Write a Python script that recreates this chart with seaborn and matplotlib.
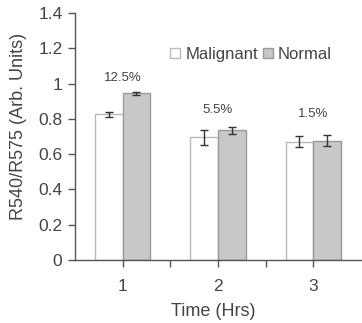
import matplotlib
matplotlib.use("Agg")
import matplotlib.pyplot as plt
import seaborn as sns
import pandas as pd
import numpy as np
from matplotlib.patches import Patch

times = ["1", "2", "3"]
groups = ["Malignant", "Normal"]
malignant = [0.825, 0.695, 0.671]
normal = [0.945, 0.735, 0.677]
malignant_err = [0.012, 0.042, 0.030]
normal_err = [0.008, 0.019, 0.032]
labels = ["12.5%", "5.5%", "1.5%"]
label_y = [1.03, 0.85, 0.83]

df = pd.DataFrame({
    "Time": times * 2,
    "Group": ["Malignant"] * 3 + ["Normal"] * 3,
    "Value": malignant + normal,
})

sns.set_style("white")
plt.rcParams["font.family"] = ["Liberation Sans", "DejaVu Sans"]
txt = "#444444"
axc = "#555555"

fig = plt.figure(figsize=(3.62, 3.23), dpi=100)
ax = fig.add_axes([0.207, 0.195, 0.79, 0.765])

face = {"Malignant": "#ffffff", "Normal": "#c8c8c8"}
sns.barplot(data=df, x="Time", y="Value", hue="Group", order=times,
            hue_order=groups, palette=face, width=0.58, errorbar=None,
            legend=False, ax=ax, saturation=1)

edges = {"Malignant": "#b8b8b8", "Normal": "#9a9a9a"}
errs = {"Malignant": malignant_err, "Normal": normal_err}
vals = {"Malignant": malignant, "Normal": normal}
bar_containers = list(ax.containers)
for gi, cont in enumerate(bar_containers):
    g = groups[gi]
    for bi, p in enumerate(cont.patches):
        p.set_edgecolor(edges[g])
        p.set_linewidth(1.0)
        cx = p.get_x() + p.get_width() / 2
        ax.errorbar(cx, vals[g][bi], yerr=errs[g][bi], fmt="none",
                    ecolor="#333333", elinewidth=1.0, capsize=3, capthick=1.0)

for i, (t, yv) in enumerate(zip(labels, label_y)):
    ax.text(i, yv, t, ha="center", va="center", fontsize=9.5, color=txt)

ax.set_ylim(0, 1.4)
ax.set_xlim(-0.5, 2.5)
ax.set_yticks(np.arange(0, 1.41, 0.2))
ax.set_yticklabels(["0", "0.2", "0.4", "0.6", "0.8", "1", "1.2", "1.4"])
ax.set_xticks([0, 1, 2])
ax.set_xticks([0.5, 1.5], minor=True)
ax.tick_params(axis="both", which="both", direction="out", length=5,
               width=1, color=axc, labelcolor=txt, labelsize=12.5)
ax.tick_params(axis="x", which="both", bottom=True, pad=9)
ax.tick_params(axis="y", left=True, pad=4)
for s in ["top", "right"]:
    ax.spines[s].set_visible(False)
for s in ["left", "bottom"]:
    ax.spines[s].set_color(axc)
    ax.spines[s].set_linewidth(1.0)

ax.set_xlabel("Time (Hrs)", fontsize=13, color=txt)
ax.set_ylabel("R540/R575 (Arb. Units)", fontsize=13, color=txt,
              va="center", ha="center")
ax.xaxis.set_label_coords(0.482, -0.172)
ax.yaxis.set_label_coords(-0.196, 0.54)

handles = [Patch(facecolor=face[g], edgecolor=edges[g], linewidth=1.0, label=g)
           for g in groups]
ax.legend(handles=handles, loc="upper left", bbox_to_anchor=(0.31, 0.89),
          ncol=2, frameon=False, fontsize=12, handlelength=0.6,
          handleheight=0.6, handletextpad=0.3, columnspacing=0.3,
          labelcolor=txt, borderaxespad=0)

fig.savefig("out.png", dpi=100)
